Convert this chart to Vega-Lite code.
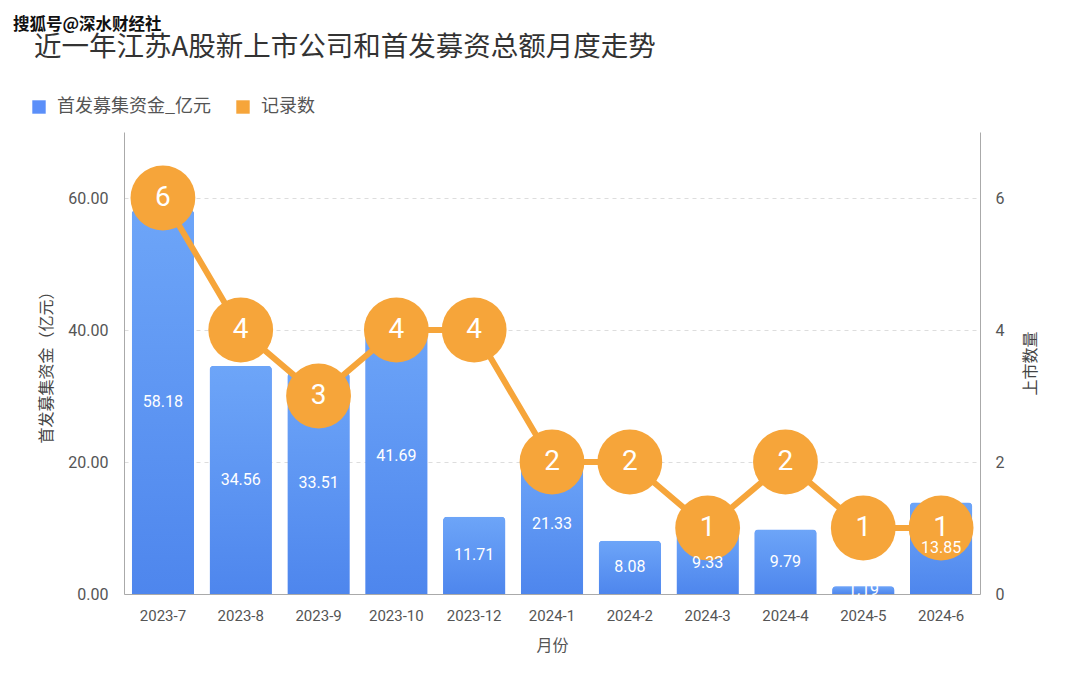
{
  "$schema": "https://vega.github.io/schema/vega-lite/v6.json",
  "width": 856,
  "height": 462,
  "autosize": "none",
  "padding": {"left": 124, "top": 132, "right": 100, "bottom": 98},
  "background": "white",
  "title": {
    "text": "搜狐号@深水财经社",
    "subtitle": "\u2800近一年江苏A股新上市公司和首发募资总额月度走势",
    "anchor": "start",
    "frame": "group",
    "dx": -111,
    "offset": 37,
    "font": "Noto Sans CJK SC",
    "fontSize": 16.5,
    "fontWeight": "bold",
    "color": "#111",
    "subtitleFont": "Noto Sans CJK SC",
    "subtitleFontSize": 27.5,
    "subtitleColor": "#333",
    "subtitlePadding": 0
  },
  "config": {"view": {"stroke": null}, "font": "Noto Sans CJK SC"},
  "data": {
    "values": [
      {"month": "2023-7", "amount": 58.18, "count": 6},
      {"month": "2023-8", "amount": 34.56, "count": 4},
      {"month": "2023-9", "amount": 33.51, "count": 3},
      {"month": "2023-10", "amount": 41.69, "count": 4},
      {"month": "2023-12", "amount": 11.71, "count": 4},
      {"month": "2024-1", "amount": 21.33, "count": 2},
      {"month": "2024-2", "amount": 8.08, "count": 2},
      {"month": "2024-3", "amount": 9.33, "count": 1},
      {"month": "2024-4", "amount": 9.79, "count": 2},
      {"month": "2024-5", "amount": 1.19, "count": 1},
      {"month": "2024-6", "amount": 13.85, "count": 1}
    ]
  },
  "encoding": {
    "x": {
      "field": "month",
      "type": "nominal",
      "sort": null,
      "title": "月份",
      "scale": {"paddingInner": 0.2, "paddingOuter": 0.1},
      "axis": {
        "labelAngle": 0,
        "ticks": false,
        "domainColor": "#aaa",
        "labelFont": "Roboto",
        "labelFontSize": 15,
        "labelColor": "#555",
        "labelPadding": 14,
        "titleFontSize": 16,
        "titleColor": "#555",
        "titleFontWeight": "normal",
        "titlePadding": 14
      }
    }
  },
  "layer": [
    {
      "layer": [
        {
          "mark": {"type": "bar", "cornerRadiusTopLeft": 4, "cornerRadiusTopRight": 4},
          "encoding": {
            "y": {
              "field": "amount",
              "type": "quantitative",
              "title": "首发募集资金（亿元）",
              "scale": {"domain": [0, 70]},
              "axis": {
                "values": [0, 20, 40, 60],
                "format": ".2f",
                "grid": true,
                "gridDash": [4, 4],
                "gridColor": "#ddd",
                "domainColor": "#aaa",
                "ticks": false,
                "labelFont": "Roboto",
                "labelFontSize": 16,
                "labelColor": "#555",
                "labelPadding": 16,
                "titleFontSize": 16,
                "titleColor": "#444",
                "titleFontWeight": "normal",
                "titlePadding": 13
              }
            },
            "color": {
              "datum": "首发募集资金_亿元",
              "scale": {"domain": ["首发募集资金_亿元", "记录数"], "range": ["#5B8FF9", "#F6A53A"]},
              "legend": {
                "orient": "none",
                "legendX": -94,
                "legendY": -34,
                "direction": "horizontal",
                "title": null,
                "symbolType": "square",
                "symbolSize": 180,
                "labelFontSize": 18,
                "labelColor": "#555",
                "columnPadding": 22,
                "padding": 0,
                "labelOffset": 9
              }
            }
          }
        },
        {
          "mark": {
            "type": "bar",
            "cornerRadiusTopLeft": 4,
            "cornerRadiusTopRight": 4,
            "color": {
              "gradient": "linear",
              "x1": 0, "y1": 0, "x2": 0, "y2": 1,
              "stops": [{"offset": 0, "color": "#6DA5F8"}, {"offset": 1, "color": "#4E86ED"}]
            }
          },
          "encoding": {
            "y": {"field": "amount", "type": "quantitative", "title": "首发募集资金（亿元）"}
          }
        }
      ]
    },
    {
      "layer": [
        {
          "mark": {"type": "line", "color": "#F6A53A", "strokeWidth": 6},
          "encoding": {
            "y": {
              "field": "count",
              "type": "quantitative",
              "title": "上市数量",
              "scale": {"domain": [0, 7]},
              "axis": {
                "orient": "right",
                "values": [0, 2, 4, 6],
                "format": "d",
                "grid": false,
                "domainColor": "#aaa",
                "ticks": false,
                "labelFont": "Roboto",
                "labelFontSize": 16,
                "labelColor": "#555",
                "labelPadding": 15,
                "titleFontSize": 16,
                "titleColor": "#444",
                "titleFontWeight": "normal",
                "titleAngle": -90,
                "titlePadding": 35
              }
            }
          }
        },
        {
          "mark": {"type": "point", "filled": true, "size": 4200, "opacity": 1, "color": "#F6A53A"},
          "encoding": {"y": {"field": "count", "type": "quantitative", "title": "上市数量"}}
        },
        {
          "mark": {"type": "text", "color": "white", "fontSize": 28, "font": "Roboto"},
          "encoding": {
            "y": {"field": "count", "type": "quantitative", "title": "上市数量"},
            "text": {"field": "count", "type": "quantitative"}
          }
        }
      ]
    },
    {
      "transform": [{"calculate": "datum.amount / 2", "as": "mid"}],
      "mark": {"type": "text", "color": "white", "fontSize": 16, "font": "Roboto"},
      "encoding": {
        "y": {"field": "mid", "type": "quantitative", "scale": {"domain": [0, 70]}, "axis": null},
        "text": {"field": "amount", "type": "quantitative", "format": ".2f"}
      }
    }
  ],
  "resolve": {"scale": {"y": "independent"}}
}
